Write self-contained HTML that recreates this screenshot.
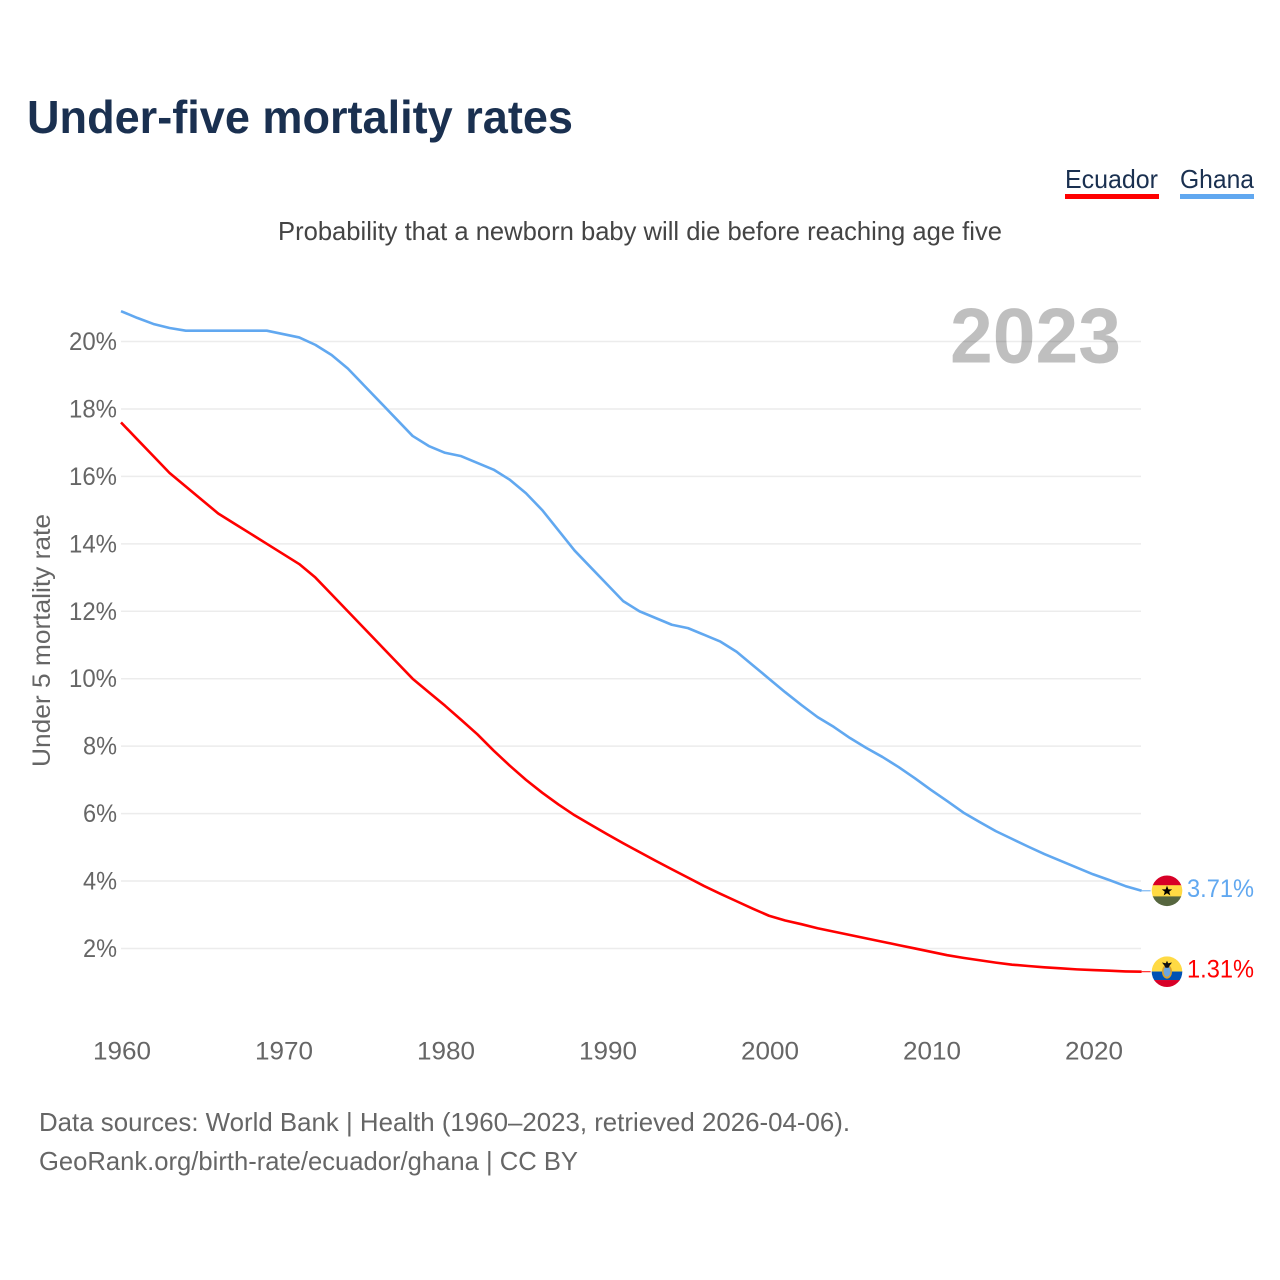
<!DOCTYPE html>
<html lang="en">
<head>
<meta charset="utf-8">
<title>Under-five mortality rates</title>
<style>
html,body{margin:0;padding:0;background:#fff;width:1280px;height:1280px;overflow:hidden}
svg{display:block}
text{font-family:"Liberation Sans",sans-serif}
</style>
</head>
<body>
<svg id="chart" xmlns="http://www.w3.org/2000/svg" width="1280" height="1280" viewBox="0 0 1280 1280">
  <rect width="1280" height="1280" fill="#fff"/>
  <text x="27" y="133" font-size="46" font-weight="700" fill="#1a3050" textLength="546" lengthAdjust="spacingAndGlyphs">Under-five mortality rates</text>
  <g>
    <text x="1065" y="188" font-size="26" fill="#1a3050" textLength="93" lengthAdjust="spacingAndGlyphs">Ecuador</text>
    <rect x="1065" y="194" width="94" height="5" fill="#ff0000"/>
  </g>
  <g>
    <text x="1180" y="188" font-size="26" fill="#1a3050" textLength="74" lengthAdjust="spacingAndGlyphs">Ghana</text>
    <rect x="1180" y="194" width="74" height="5" fill="#61a8f0"/>
  </g>
  <text x="278" y="240" font-size="26" fill="#444" textLength="724" lengthAdjust="spacingAndGlyphs">Probability that a newborn baby will die before reaching age five</text>
  <text transform="translate(50,767) rotate(-90)" x="0" y="0" font-size="25" fill="#666" textLength="253" lengthAdjust="spacingAndGlyphs">Under 5 mortality rate</text>
  <g id="grid"></g>
  <g id="yticks"></g>
  <g id="xticks"></g>
  <text x="950" y="362.5" font-size="78" font-weight="700" fill="#000" fill-opacity="0.25" textLength="171" lengthAdjust="spacingAndGlyphs">2023</text>
  <g id="series"></g>
  <defs>
    <clipPath id="clip-ghana"><circle id="clip-ghana-circle" r="15.3" cx="1167" cy="890"/></clipPath>
    <clipPath id="clip-ecuador"><circle id="clip-ecuador-circle" r="15.3" cx="1167" cy="971"/></clipPath>
  </defs>
  <g id="flag-ghana" clip-path="url(#clip-ghana)">
    <rect x="1151" y="-15.5" width="32" height="10.2" fill="#d80027" data-band="1"/>
    <rect x="1151" y="-5.6" width="32" height="11.4" fill="#ffda44" data-band="1"/>
    <rect x="1151" y="5.6" width="32" height="10.2" fill="#56663f" data-band="1"/>
    <polygon data-band="1" fill="#000" points="1167,-5 1168.4,-1.4 1172.2,-1.4 1169.2,0.9 1170.3,4.6 1167,2.4 1163.7,4.6 1164.8,0.9 1161.8,-1.4 1165.6,-1.4"/>
  </g>
  <g id="flag-ecuador" clip-path="url(#clip-ecuador)">
    <rect x="1151" y="-15.5" width="32" height="15.4" fill="#ffda44" data-band="1"/>
    <rect x="1151" y="-0.2" width="32" height="8.6" fill="#0052b4" data-band="1"/>
    <rect x="1151" y="8.3" width="32" height="7.5" fill="#d80027" data-band="1"/>
    <ellipse data-band="1" cx="1167" cy="0" rx="5" ry="7" fill="#d8a02c"/>
    <ellipse data-band="1" cx="1167" cy="-0.3" rx="3.4" ry="5.2" fill="#6ca6e0"/>
    <polygon data-band="1" fill="#111" points="1167,-11 1168.2,-8.5 1172,-9.2 1169.5,-6 1168.5,-4 1165.5,-4 1164.5,-6 1162,-9.2 1165.8,-8.5"/>
  </g>
  <text id="label-ghana" x="1187" y="896" font-size="25" fill="#61a8f0" textLength="67" lengthAdjust="spacingAndGlyphs"></text>
  <text id="label-ecuador" x="1187" y="977" font-size="25" fill="#ff0000" textLength="67" lengthAdjust="spacingAndGlyphs"></text>
  <text x="39" y="1131" font-size="26" fill="#666" textLength="811" lengthAdjust="spacingAndGlyphs">Data sources: World Bank | Health (1960–2023, retrieved 2026-04-06).</text>
  <text x="39" y="1170" font-size="26" fill="#666" textLength="539" lengthAdjust="spacingAndGlyphs">GeoRank.org/birth-rate/ecuador/ghana | CC BY</text>
</svg>
<script>
const startYear = 1960;
const ghanaValues = [20.9,20.7,20.52,20.4,20.32,20.32,20.32,20.32,20.32,20.32,20.22,20.12,19.9,19.6,19.2,18.7,18.2,17.7,17.2,16.9,16.7,16.6,16.4,16.2,15.9,15.5,15.0,14.4,13.8,13.3,12.8,12.3,12.0,11.8,11.6,11.5,11.3,11.1,10.8,10.4,10.0,9.6,9.22,8.86,8.57,8.24,7.95,7.68,7.38,7.05,6.7,6.37,6.03,5.75,5.48,5.25,5.02,4.8,4.6,4.4,4.2,4.03,3.85,3.71];
const ecuadorValues = [17.6,17.1,16.6,16.1,15.7,15.3,14.9,14.6,14.3,14.0,13.7,13.4,13.0,12.5,12.0,11.5,11.0,10.5,10.0,9.6,9.2,8.78,8.35,7.87,7.42,7.0,6.62,6.27,5.95,5.67,5.39,5.12,4.86,4.6,4.35,4.1,3.85,3.62,3.4,3.18,2.97,2.83,2.72,2.6,2.5,2.4,2.3,2.2,2.1,2.0,1.9,1.8,1.72,1.65,1.58,1.52,1.48,1.44,1.41,1.38,1.36,1.34,1.32,1.31];
const yTickValues = [2,4,6,8,10,12,14,16,18,20];
const xTickYears = [1960,1970,1980,1990,2000,2010,2020];

const NS = 'http://www.w3.org/2000/svg';
function xScale(year){ return 121 + (year - 1960) * 16.2; }
function yScale(v){ return 1015.9 - v * 33.72; }
function make(tag, parent, attrs, txt){
  const el = document.createElementNS(NS, tag);
  for (const k in attrs) el.setAttribute(k, attrs[k]);
  if (txt !== undefined) el.textContent = txt;
  parent.appendChild(el);
  return el;
}

const grid = document.getElementById('grid');
const yticks = document.getElementById('yticks');
const xticks = document.getElementById('xticks');
const series = document.getElementById('series');

yTickValues.forEach(function(v){
  const line = make('line', grid, {x1:121, x2:1141, y1:yScale(v), y2:yScale(v), stroke:'#ececec', 'stroke-width':1.5});
  
  
  const width = v < 10 ? 34 : 48;
  const label = make('text', yticks, {x:117 - width, y:yScale(v) + 8.5, 'font-size':25, fill:'#666', textLength:width, lengthAdjust:'spacingAndGlyphs'}, v + '%');
  
  
});

xTickYears.forEach(function(yr){
  const label = make('text', xticks, {x:xScale(yr) - 28, y:1059.5, 'font-size':25, fill:'#666', textLength:58, lengthAdjust:'spacingAndGlyphs'}, String(yr));
  
  
});

function linePoints(values){
  return values.map(function(v, i){ return xScale(startYear + i).toFixed(2) + ',' + yScale(v).toFixed(2); }).join(' ');
}

const ecuadorLine = make('polyline', series, {points:linePoints(ecuadorValues), fill:'none', stroke:'#ff0000', 'stroke-width':2.6, 'stroke-linejoin':'round'});



const ghanaLine = make('polyline', series, {points:linePoints(ghanaValues), fill:'none', stroke:'#61a8f0', 'stroke-width':2.6, 'stroke-linejoin':'round'});



function placeEnd(values, color, flagId, clipId, labelId){
  const last = values[values.length - 1];
  const y = yScale(last);
  const lx = xScale(startYear + values.length - 1);
  const lead = make('line', series, {x1:lx, x2:lx + 9, y1:y, y2:y, stroke:color, 'stroke-width':1});
  
  
  document.getElementById(clipId).setAttribute('cy', y);
  document.getElementById(flagId).querySelectorAll('[data-band]').forEach(function(n){
    n.setAttribute('transform', 'translate(0,' + y + ')');
  });
  const lab = document.getElementById(labelId);
  lab.textContent = last.toFixed(2) + '%';
  lab.setAttribute('y', y + 6);
}
placeEnd(ghanaValues, '#61a8f0', 'flag-ghana', 'clip-ghana-circle', 'label-ghana');
placeEnd(ecuadorValues, '#ff0000', 'flag-ecuador', 'clip-ecuador-circle', 'label-ecuador');
</script>
</body>
</html>
